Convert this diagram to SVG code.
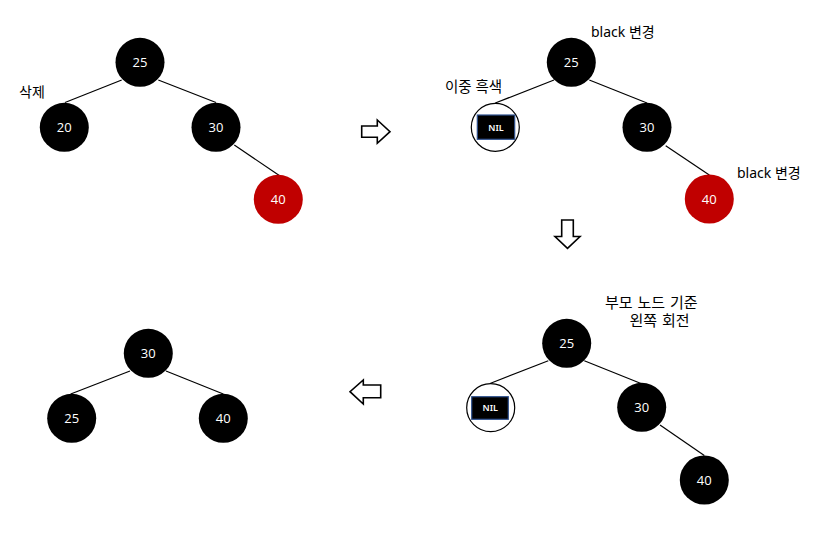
<svg xmlns="http://www.w3.org/2000/svg" width="828" height="543" viewBox="0 0 828 543">
<style>
.n{fill:#000}
.r{fill:#C00000}
.e{stroke:#000;stroke-width:1.2;fill:none}
.t{fill:#fff;font-family:"Open Sans","Noto Sans",sans-serif;font-size:13px;text-anchor:middle}
.nil{fill:#fff;font-family:"Noto Sans",sans-serif;font-size:9px;font-weight:600;text-anchor:middle}
.lb{fill:#000;font-family:"Noto Sans","Noto Sans CJK KR",sans-serif;font-size:14px}
.lb2{fill:#000;font-family:"Noto Sans","Noto Sans CJK KR",sans-serif;font-size:15px;word-spacing:1px}
.ring{fill:#fff;stroke:#000;stroke-width:1.2}
.box{fill:#000;stroke:#2F528F;stroke-width:1.2}
.ar{fill:#fff;stroke:#000;stroke-width:1.6;stroke-linejoin:miter}
</style>
<g id="connectors">
<line class="e" x1="121.7" y1="80" x2="65" y2="102.5"/>
<line class="e" x1="158.3" y1="80" x2="216" y2="102.5"/>
<line class="e" x1="234.3" y1="145" x2="279.3" y2="175.5"/>
<line class="e" x1="554" y1="80" x2="495.3" y2="103"/>
<line class="e" x1="589.3" y1="80" x2="647" y2="103"/>
<line class="e" x1="665.7" y1="145.7" x2="709.3" y2="175"/>
<line class="e" x1="548.3" y1="360.7" x2="490" y2="383.5"/>
<line class="e" x1="584.3" y1="360.7" x2="641" y2="383.5"/>
<line class="e" x1="660" y1="425" x2="704.3" y2="455.5"/>
<line class="e" x1="130" y1="371" x2="70.7" y2="394"/>
<line class="e" x1="166" y1="371" x2="223.3" y2="394"/>
</g>
<g id="p1-n25"><circle class="n" cx="140" cy="62.3" r="24.5"/><text class="t" x="140" y="67">25</text></g>
<g id="p1-n20"><circle class="n" cx="64.3" cy="127.3" r="24.5"/><text class="t" x="64.3" y="132">20</text></g>
<g id="p1-n30"><circle class="n" cx="216" cy="127.3" r="24.5"/><text class="t" x="216" y="132">30</text></g>
<g id="p1-n40"><circle class="r" cx="278.3" cy="199.3" r="24.5"/><text class="t" x="278.3" y="204">40</text></g>
<g id="p1-label"><text class="lb" x="19" y="97">삭제</text></g>

<g id="arrow-right"><path class="ar" d="M361.7,126 H377.3 V120 L390,131.7 L377.3,143.3 V137.3 H361.7 Z"/></g>

<g id="p2-n25"><circle class="n" cx="571.3" cy="62.3" r="24.5"/><text class="t" x="571.3" y="67">25</text></g>
<g id="p2-nil"><circle class="ring" cx="495.3" cy="127.3" r="24"/><rect class="box" x="477.3" y="115" width="37.4" height="24.3"/><text class="nil" x="496" y="130.5">NIL</text></g>
<g id="p2-n30"><circle class="n" cx="647" cy="127.3" r="24.5"/><text class="t" x="647" y="132">30</text></g>
<g id="p2-n40"><circle class="r" cx="709.3" cy="199" r="24.5"/><text class="t" x="709.3" y="203.7">40</text></g>
<g id="p2-labels">
<text class="lb" x="591" y="37">black 변경</text>
<text class="lb" x="445" y="92" style="font-size:14.5px">이중 흑색</text>
<text class="lb" x="737" y="178">black 변경</text>
</g>

<g id="arrow-down"><path class="ar" d="M561.7,220 H573.3 V236.5 H580 L567.5,248.3 L555,236.5 H561.7 Z"/></g>

<g id="p3-n25"><circle class="n" cx="566.7" cy="343.3" r="24.5"/><text class="t" x="566.7" y="348">25</text></g>
<g id="p3-nil"><circle class="ring" cx="490.7" cy="407.7" r="24"/><rect class="box" x="471.7" y="396.7" width="36.6" height="22.6"/><text class="nil" x="490.3" y="411.2">NIL</text></g>
<g id="p3-n30"><circle class="n" cx="641.7" cy="407.3" r="24.5"/><text class="t" x="641.7" y="412">30</text></g>
<g id="p3-n40"><circle class="n" cx="704.3" cy="480" r="24.5"/><text class="t" x="704.3" y="484.7">40</text></g>
<g id="p3-label">
<text class="lb2"><tspan x="605" y="308">부모 노드 기준</tspan><tspan x="629.5" y="326">왼쪽 회전</tspan></text>
</g>

<g id="arrow-left"><path class="ar" d="M380.7,385 H363.3 V380 L350,391.7 L363.3,404 V397.7 H380.7 Z"/></g>

<g id="p4-n30"><circle class="n" cx="148.3" cy="353.3" r="24.5"/><text class="t" x="148.3" y="358">30</text></g>
<g id="p4-n25"><circle class="n" cx="71.7" cy="418.3" r="24.5"/><text class="t" x="71.7" y="423">25</text></g>
<g id="p4-n40"><circle class="n" cx="223.3" cy="418.3" r="24.5"/><text class="t" x="223.3" y="423">40</text></g>
</svg>
